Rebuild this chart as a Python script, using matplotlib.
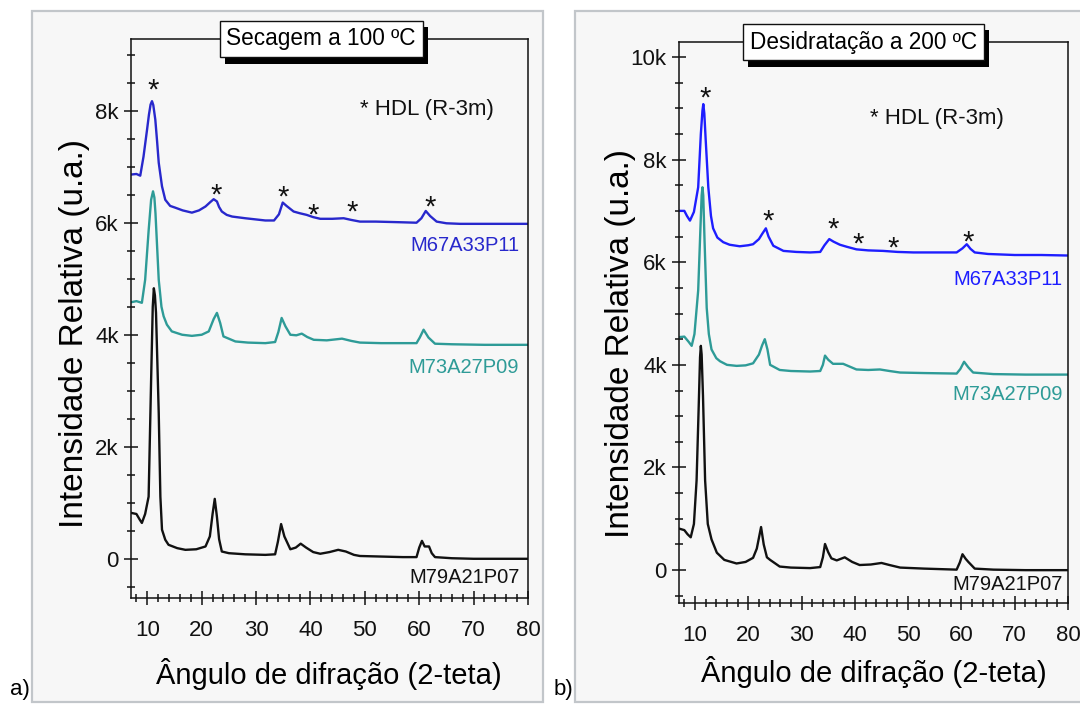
import matplotlib

matplotlib.use("Agg")
import matplotlib.pyplot as plt
import matplotlib.patheffects as pe
from matplotlib.patches import Rectangle
from matplotlib.ticker import MultipleLocator, FuncFormatter

plt.rcParams["font.family"] = ["Liberation Sans", "DejaVu Sans"]

# ---- panel a: Secagem a 100 ºC (intensities in thousands of counts) ----
a_blue_x = [7.0, 8.0, 8.7, 9.3, 9.95, 10.3, 10.6, 10.86, 11.1, 11.47, 11.8, 12.1, 12.7, 13.3,
            14.2, 15.1, 16.5, 18.2, 19.5, 20.7, 21.6, 22.2, 22.8, 23.2, 23.7, 24.6, 25.6, 28.0,
            31.7, 33.3, 34.2, 34.9, 35.6, 36.9, 38.0, 39.3, 40.5, 41.8, 44.0, 46.1, 47.5, 49.1,
            52.0, 56.0, 59.5, 60.4, 61.2, 62.0, 63.2, 65.0, 67.5, 72.0, 76.0, 80.0]
a_blue_y = [6.86, 6.87, 6.84, 7.18, 7.66, 7.93, 8.11, 8.17, 8.10, 7.84, 7.45, 7.07, 6.65, 6.41,
            6.30, 6.27, 6.22, 6.18, 6.22, 6.29, 6.37, 6.42, 6.38, 6.28, 6.20, 6.14, 6.11, 6.08,
            6.04, 6.04, 6.15, 6.36, 6.30, 6.20, 6.17, 6.14, 6.10, 6.07, 6.07, 6.08, 6.05, 6.02,
            6.02, 6.01, 6.00, 6.08, 6.21, 6.12, 6.02, 5.99, 5.98, 5.98, 5.98, 5.98]

a_teal_x = [7.0, 8.0, 9.0, 9.6, 10.25, 10.7, 11.05, 11.3, 11.5, 12.1, 12.6, 13.0, 13.6, 14.5,
            16.4, 18.2, 20.0, 21.3, 22.2, 22.8, 23.4, 24.0, 26.2, 28.5, 31.7, 33.5, 34.1, 34.7,
            35.4, 36.3, 37.4, 38.4, 39.4, 40.6, 43.0, 45.8, 47.5, 49.1, 53.0, 59.5, 60.1, 60.8,
            61.7, 62.9, 66.0, 72.0, 80.0]
a_teal_y = [4.58, 4.60, 4.57, 4.98, 5.87, 6.41, 6.56, 6.45, 6.17, 4.98, 4.50, 4.33, 4.18, 4.06,
            4.00, 3.98, 4.00, 4.06, 4.28, 4.39, 4.21, 3.97, 3.88, 3.86, 3.85, 3.87, 4.05, 4.30,
            4.15, 4.00, 3.99, 4.02, 3.96, 3.91, 3.90, 3.93, 3.89, 3.86, 3.85, 3.85, 3.95, 4.09,
            3.95, 3.84, 3.83, 3.82, 3.82]

a_black_x = [7.0, 8.0, 8.6, 9.0, 9.6, 10.24, 10.7, 11.0, 11.2, 11.4, 11.6, 12.1, 12.4, 12.7,
             13.3, 13.9, 15.5, 17.0, 19.0, 20.7, 21.5, 22.0, 22.4, 22.8, 23.2, 23.7, 25.0, 28.0,
             31.7, 33.5, 34.0, 34.6, 35.2, 36.3, 37.3, 38.2, 39.2, 40.5, 41.8, 43.5, 45.1, 46.5,
             48.0, 49.1, 53.0, 57.0, 59.5, 60.0, 60.5, 61.0, 61.8, 62.3, 62.9, 66.0, 70.0, 80.0]
a_black_y = [0.82, 0.80, 0.70, 0.64, 0.80, 1.11, 3.20, 4.50, 4.83, 4.70, 4.39, 2.60, 1.11, 0.52,
             0.34, 0.25, 0.19, 0.16, 0.17, 0.22, 0.40, 0.80, 1.07, 0.75, 0.35, 0.13, 0.10, 0.08,
             0.07, 0.08, 0.30, 0.62, 0.40, 0.17, 0.20, 0.27, 0.20, 0.12, 0.09, 0.12, 0.16, 0.13,
             0.07, 0.05, 0.04, 0.03, 0.03, 0.20, 0.32, 0.22, 0.22, 0.10, 0.03, 0.01, 0.00, 0.00]

a_star_x = [11.1, 22.7, 35.0, 40.5, 47.7, 62.0]
a_star_y = [8.52, 6.66, 6.62, 6.30, 6.34, 6.43]

# ---- panel b: Desidratação a 200 ºC ----
b_blue_x = [7.0, 8.0, 8.5, 9.06, 9.8, 10.6, 11.1, 11.4, 11.56, 11.75, 12.0, 12.5, 13.0, 13.4,
            14.2, 15.3, 16.5, 18.4, 20.0, 20.9, 22.0, 22.6, 23.3, 23.8, 24.7, 26.6, 29.0, 31.6,
            33.5, 34.3, 35.2, 36.0, 37.2, 38.5, 40.3, 42.5, 45.3, 48.0, 51.0, 54.7, 59.1, 60.2,
            61.0, 61.7, 62.5, 65.0, 70.0, 75.0, 80.0]
b_blue_y = [7.00, 7.00, 6.90, 6.81, 6.98, 7.46, 8.50, 8.95, 9.08, 8.90, 8.40, 7.46, 6.90, 6.66,
            6.48, 6.39, 6.34, 6.31, 6.33, 6.35, 6.45, 6.55, 6.66, 6.50, 6.32, 6.22, 6.20, 6.19,
            6.20, 6.33, 6.45, 6.40, 6.34, 6.30, 6.25, 6.23, 6.22, 6.20, 6.19, 6.19, 6.19, 6.27,
            6.35, 6.26, 6.19, 6.16, 6.14, 6.14, 6.13]

b_teal_x = [7.0, 8.0, 8.8, 9.38, 9.9, 10.6, 11.0, 11.25, 11.4, 11.55, 11.8, 12.2, 12.6, 13.1,
            14.0, 14.7, 16.0, 17.8, 19.5, 20.9, 22.0, 22.6, 23.1, 23.6, 24.1, 25.9, 28.0, 31.6,
            33.5, 34.0, 34.4, 35.0, 35.9, 37.8, 40.3, 42.5, 44.7, 46.5, 48.5, 53.0, 59.1, 59.8,
            60.5, 61.3, 62.2, 66.0, 72.0, 80.0]
b_teal_y = [4.54, 4.55, 4.45, 4.37, 4.60, 5.45, 6.60, 7.30, 7.46, 7.30, 6.40, 5.11, 4.60, 4.30,
            4.13, 4.07, 4.00, 3.98, 3.99, 4.03, 4.20, 4.38, 4.50, 4.30, 4.00, 3.90, 3.88, 3.87,
            3.88, 4.00, 4.18, 4.10, 4.02, 4.02, 3.91, 3.90, 3.91, 3.88, 3.85, 3.84, 3.83, 3.92,
            4.06, 3.95, 3.85, 3.82, 3.81, 3.81]

b_black_x = [7.0, 8.0, 8.6, 9.2, 9.8, 10.3, 10.7, 10.95, 11.1, 11.25, 11.5, 11.9, 12.4, 13.1,
             14.1, 15.5, 17.8, 19.5, 20.9, 21.6, 22.4, 22.9, 23.5, 24.1, 25.9, 28.0, 31.6, 33.5,
             34.0, 34.4, 35.0, 35.6, 36.6, 38.1, 39.5, 40.9, 43.0, 45.0, 46.5, 48.5, 53.0, 59.1,
             59.7, 60.2, 60.8, 61.3, 62.5, 66.0, 72.0, 80.0]
b_black_y = [0.81, 0.78, 0.70, 0.64, 0.90, 1.75, 3.20, 4.15, 4.37, 4.20, 3.40, 1.75, 0.90, 0.60,
             0.34, 0.20, 0.13, 0.16, 0.24, 0.42, 0.84, 0.50, 0.25, 0.20, 0.07, 0.05, 0.04, 0.06,
             0.25, 0.51, 0.35, 0.23, 0.19, 0.25, 0.16, 0.10, 0.11, 0.14, 0.10, 0.05, 0.03, 0.01,
             0.15, 0.31, 0.22, 0.16, 0.03, 0.01, 0.00, 0.00]

b_star_x = [12.0, 23.75, 35.9, 40.6, 47.2, 61.2]
b_star_y = [9.37, 6.98, 6.82, 6.53, 6.45, 6.57]

sample_names = ["M67A33P11", "M73A27P09", "M79A21P07"]
titles = ["Secagem a 100 ºC", "Desidratação a 200 ºC"]

W, H = 1080, 706
fig = plt.figure(figsize=(W / 100, H / 100), dpi=100)
fig.patch.set_facecolor("white")


def px_rect(x0, y0, x1, y1):
    return [x0 / W, 1 - y1 / H, (x1 - x0) / W, (y1 - y0) / H]


# grey panel frames
for (x0, x1) in [(32, 543), (575, 1090)]:
    r = px_rect(x0, 11, x1, 702)
    fig.add_artist(Rectangle((r[0], r[1]), r[2], r[3], transform=fig.transFigure,
                             facecolor="#f7f7f7", edgecolor="#c2c6ca", lw=1.6, zorder=0))

ax_a = fig.add_axes(px_rect(131, 39, 528, 598))
ax_b = fig.add_axes(px_rect(679, 42, 1068, 603))

panels = [
    (ax_a, (-0.7, 9.28), "#2828cc",
     [(a_blue_x, a_blue_y), (a_teal_x, a_teal_y), (a_black_x, a_black_y)],
     (a_star_x, a_star_y), (49.1, 8.02), [5.59, 3.41, -0.33], 78.4, 0.479),
    (ax_b, (-0.64, 10.29), "#1e1eff",
     [(b_blue_x, b_blue_y), (b_teal_x, b_teal_y), (b_black_x, b_black_y)],
     (b_star_x, b_star_y), (42.8, 8.8), [5.67, 3.43, -0.27], 79.0, 0.474),
]

teal = "#2e9b97"
kfmt = FuncFormatter(lambda v, p: "0" if abs(v) < 1e-9 else f"{v:.0f}k")

for i, (ax, ylim, blue, curves, stars, hdl, lab_y, lab_x, tcx) in enumerate(panels):
    ax.set_facecolor("none")
    colors = [blue, teal, "#111111"]
    for (xs, ys), c in zip(curves, colors):
        ax.plot(xs, ys, color=c, lw=1.7, solid_joinstyle="round")
    for name, c, yy in zip(sample_names, colors, lab_y):
        ax.text(lab_x, yy, name, color=c, fontsize=14.5, ha="right", va="center")
    for sx, sy in zip(*stars):
        ax.annotate("*", (sx, sy), xytext=(0, -12.5), textcoords="offset points",
                    ha="center", va="baseline", fontsize=21, color="#111111")
    ax.annotate("* HDL (R-3m)", hdl, ha="left", va="center", fontsize=16, color="#111111")

    ax.set_xlim(7, 80)
    ax.set_ylim(*ylim)
    ax.xaxis.set_major_locator(MultipleLocator(10))
    ax.xaxis.set_minor_locator(MultipleLocator(2))
    ax.yaxis.set_major_locator(MultipleLocator(2))
    ax.yaxis.set_minor_locator(MultipleLocator(0.5))
    ax.yaxis.set_major_formatter(kfmt)
    ax.tick_params(which="both", direction="inout", width=1.1, colors="#111111",
                   labelsize=16, top=False, right=False)
    ax.tick_params(which="major", length=10)
    ax.tick_params(which="minor", length=6)
    ax.tick_params(axis="x", pad=11)
    ax.tick_params(axis="y", pad=4)
    for s in ax.spines.values():
        s.set_linewidth(1.1)
        s.set_color("#111111")

    t = ax.text(tcx, 1.0, titles[i], transform=ax.transAxes, ha="center", va="center",
                fontsize=16.3, zorder=5,
                bbox=dict(boxstyle="square,pad=0.3", fc="white", ec="#111111", lw=1.0))
    t.get_bbox_patch().set_path_effects(
        [pe.SimplePatchShadow(offset=(3.8, -4.5), shadow_rgbFace="black", alpha=1.0),
         pe.Normal()])

# axis labels
fig.text(329 / W, 1 - 674 / H, "Ângulo de difração (2-teta)", ha="center", va="center",
         fontsize=21)
fig.text(874 / W, 1 - 672 / H, "Ângulo de difração (2-teta)", ha="center", va="center",
         fontsize=21)
fig.text(75 / W, 1 - 333 / H, "Intensidade Relativa (u.a.)", ha="center", va="center",
         rotation=90, fontsize=24)
fig.text(620 / W, 1 - 344 / H, "Intensidade Relativa (u.a.)", ha="center", va="center",
         rotation=90, fontsize=24)

fig.text(20 / W, 1 - 690 / H, "a)", ha="center", va="center", fontsize=16)
fig.text(563 / W, 1 - 690 / H, "b)", ha="center", va="center", fontsize=16)

fig.savefig("out.png", dpi=100)
